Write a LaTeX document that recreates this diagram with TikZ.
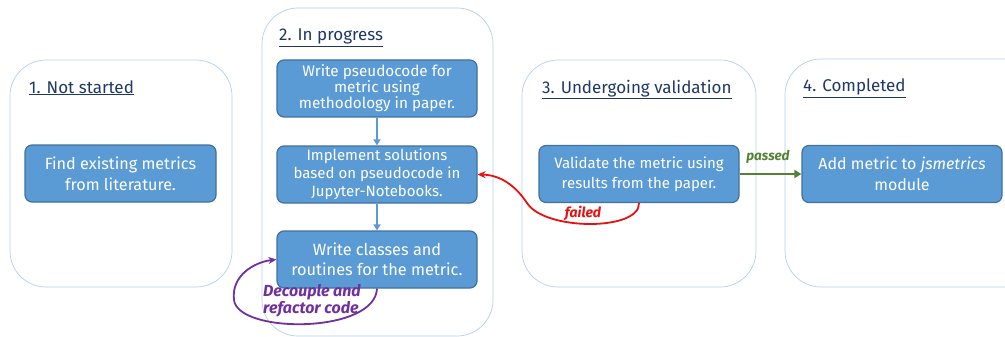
\documentclass[tikz,border=0pt]{standalone}
\usepackage{fontspec}
\setmainfont{Fira Sans}
\usetikzlibrary{arrows.meta}
\definecolor{boxfill}{HTML}{5B9BD5}
\definecolor{boxline}{HTML}{41719C}
\definecolor{panelline}{HTML}{B4D0EA}
\definecolor{titlecol}{HTML}{1F3864}
\definecolor{failcol}{HTML}{E81010}
\definecolor{passcol}{HTML}{548235}
\definecolor{loopcol}{HTML}{7030A0}
\tikzset{
  panel/.style={draw=panelline, line width=0.7pt, rounded corners=36pt},
  ptitle/.style={anchor=base west, text=titlecol, font=\fontsize{17}{20}\selectfont, inner sep=0pt},
  stepbox/.style={draw=boxline, line width=1.2pt, fill=boxfill, rounded corners=7pt,
    text=white, align=center, inner sep=0pt, minimum width=200pt, minimum height=57pt},
  flow/.style={draw=boxfill, line width=1.5pt, -{Triangle[length=6pt,width=7pt]}},
  lab/.style={font=\fontsize{14}{16}\selectfont\bfseries\itshape, inner sep=0pt}
}
\begin{document}
\begin{tikzpicture}[x=1pt,y=-1pt]
\clip (0,0) rectangle (1005,337);
\fill[white] (0,0) rectangle (1005,337);
% panels
\draw[panel] (10,60) rectangle (232,287);
\draw[panel] (262,8) rectangle (493,336);
\draw[panel] (522,60) rectangle (756,287);
\draw[panel] (785,59) rectangle (1040,287);
% titles
\node[ptitle] (t1) at (29,93) {\underline{1. Not started}};
\node[ptitle] (t2) at (279,41) {\underline{2. In progress}};
\node[ptitle] (t3) at (542,93) {\underline{3. Undergoing validation}};
\node[ptitle] (t4) at (803,92) {\underline{4. Completed}};
% boxes
\node[stepbox, minimum width=191pt, font=\fontsize{16.2}{21}\selectfont] (b1) at (120.5,173.5) {Find existing metrics\\from literature.};
\node[stepbox, font=\fontsize{15.3}{16}\selectfont] (b2a) at (377,88.5) {Write pseudocode for\\metric using\\methodology in paper.};
\node[stepbox, font=\fontsize{15}{18}\selectfont] (b2b) at (377,174.5) {Implement solutions\\based on pseudocode in\\Jupyter-Notebooks.};
\node[stepbox, font=\fontsize{16.3}{20}\selectfont] (b2c) at (377,259.5) {Write classes and\\routines for the metric.};
\node[stepbox, font=\fontsize{15}{20}\selectfont] (b3) at (639,174) {Validate the metric using\\results from the paper.};
\node[stepbox, font=\fontsize{16}{21}\selectfont] (b4) at (902,174) {Add metric to \textit{jsmetrics}\\module};
% flow arrows
\draw[flow] (b2a) -- (b2b);
\draw[flow] (b2b) -- (b2c);
% failed
\draw[failcol, line width=1.8pt, -{Stealth[length=8pt,width=7pt]}]
  (b3.south) .. controls (640,231) and (545,231) .. (527,203)
  .. controls (515,185) and (500,175) .. (b2b.east);
\node[lab, text=failcol] (lf) at (583,213) {failed};
% passed
\draw[passcol, line width=1.8pt, -{Triangle[length=7pt,width=8pt]}] (b3.east) -- (b4.west);
\node[lab, text=passcol, font=\fontsize{13.5}{16}\selectfont\bfseries\itshape] (lp) at (768,157) {passed};
% loop
\draw[loopcol, line width=1.8pt, -{Stealth[length=8pt,width=7pt]}]
  (b2c.south) .. controls (375,334) and (238,334) .. (234,300)
  .. controls (231,275) and (255,262) .. (b2c.west);
\node[lab, text=loopcol, anchor=north west, align=left, font=\fontsize{16}{17}\selectfont\bfseries\itshape] (ll) at (263,284) {Decouple and\\refactor code};
\end{tikzpicture}
\end{document}
